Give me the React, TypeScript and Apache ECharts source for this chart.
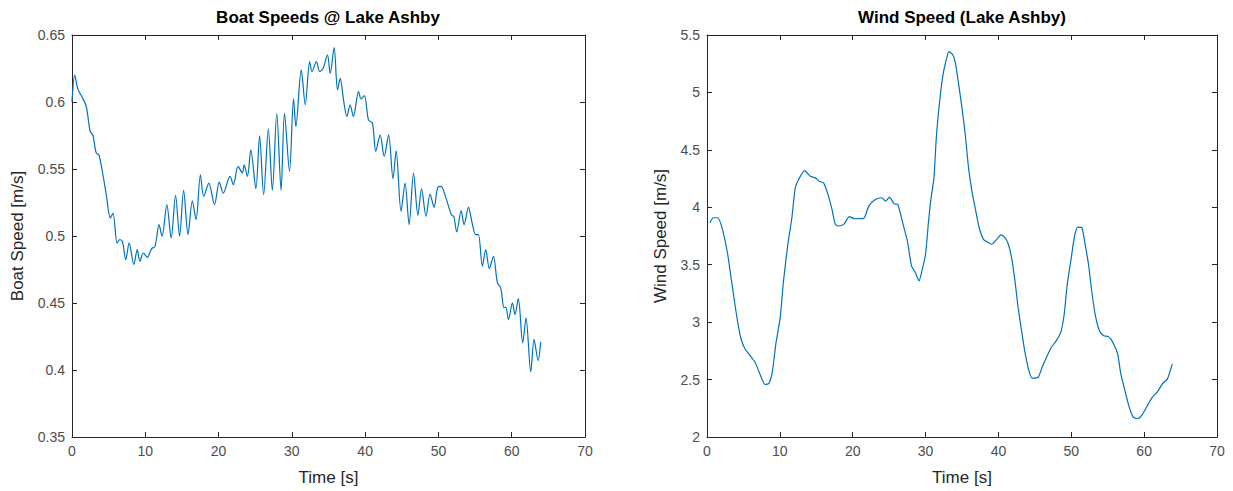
import React, { useEffect, useRef } from "react";
import * as echarts from "echarts";

// Boat speed record (time in s, speed in m/s)
const boatTime = [
  0, 0.37, 0.78, 1.24, 1.93, 2.48, 2.84, 3.3, 3.67, 4.22, 4.68, 5.23, 5.6, 6.15, 6.51, 6.88,
  7.34, 7.8, 8.44, 8.9, 9.27, 9.72, 10.28, 10.87, 11.33, 11.88, 12.29, 12.94, 13.53, 14.13,
  14.68, 15.23, 15.83, 16.42, 16.93, 17.52, 17.98, 18.67, 19.45, 20.09, 20.64, 21.56, 22.02,
  22.66, 23.26, 23.49, 23.94, 24.4, 25.09, 25.6, 26.15, 26.79, 27.34, 27.94, 28.53, 28.99,
  29.68, 30.23, 30.55, 31.28, 31.83, 32.43, 32.75, 33.35, 33.81, 34.27, 34.86, 35.23, 35.77,
  36.23, 36.6, 37.05, 37.5, 37.95, 38.4, 39.1, 39.45, 39.9, 40.45, 41.0, 41.45, 42.05, 42.6,
  43.2, 43.8, 44.23, 44.9, 45.45, 46.0, 46.6, 47.2, 47.7, 48.3, 48.86, 49.4, 49.9, 50.36,
  51.0, 51.8, 52.1, 52.5, 53.1, 53.5, 54.1, 54.6, 55.1, 55.45, 56.0, 56.45, 56.95, 57.5,
  58.05, 58.5, 58.95, 59.2, 59.55, 60.1, 60.45, 60.9, 61.5, 61.95, 62.6, 63.05, 63.6, 63.95,
];
const boatSpeed = [
  0.6, 0.62, 0.61, 0.605, 0.597, 0.578, 0.5755, 0.562, 0.5606, 0.5457, 0.5308, 0.5134, 0.5171,
  0.4948, 0.4973, 0.496, 0.4824, 0.4948, 0.4787, 0.4898, 0.4811, 0.4873, 0.4841, 0.4906,
  0.4923, 0.5085, 0.4998, 0.5234, 0.4985, 0.5303, 0.4998, 0.534, 0.501, 0.5263, 0.5122,
  0.5457, 0.5296, 0.5395, 0.5234, 0.5402, 0.532, 0.5445, 0.5383, 0.5519, 0.547, 0.5531,
  0.5445, 0.5643, 0.5353, 0.5748, 0.5308, 0.58, 0.534, 0.5916, 0.534, 0.5916, 0.5482, 0.6023,
  0.5817, 0.6239, 0.5979, 0.6301, 0.6227, 0.6301, 0.6227, 0.6252, 0.6351, 0.6214, 0.6406,
  0.609, 0.6177, 0.6016, 0.5892, 0.5979, 0.5892, 0.6078, 0.6023, 0.6048, 0.5867, 0.5842,
  0.5631, 0.5755, 0.5594, 0.5755, 0.5427, 0.5636, 0.5184, 0.5395, 0.5085, 0.5469, 0.5154,
  0.5353, 0.5147, 0.5313, 0.5214, 0.5363, 0.537, 0.5288, 0.5154, 0.5147, 0.503, 0.5189,
  0.5085, 0.5214, 0.5097, 0.501, 0.501, 0.4774, 0.4898, 0.4757, 0.4849, 0.465, 0.4613, 0.4464,
  0.4469, 0.4377, 0.4501, 0.4414, 0.4533, 0.4203, 0.4389, 0.3987, 0.4228, 0.4071, 0.421,
];

// Wind speed record (time in s, speed in m/s)
const windTime = [
  0.41, 0.87, 1.47, 1.93, 2.39, 2.84, 3.3, 3.76, 4.22, 4.68, 5.23, 5.92, 6.61, 7.16, 7.98,
  8.53, 8.99, 9.45, 10.05, 10.5, 11.1, 11.65, 12.11, 12.57, 13.39, 14.17, 14.86, 15.41, 16.0,
  16.6, 17.16, 17.61, 18.07, 18.76, 19.54, 20.28, 21.5, 22.2, 23.1, 24.0, 24.5, 25.05, 25.7,
  26.2, 26.8, 27.5, 28.07, 28.6, 29.1, 29.5, 30.0, 30.37, 30.7, 31.15, 31.47, 31.93, 32.39,
  32.84, 33.2, 33.76, 34.1, 34.55, 35.0, 35.45, 35.9, 36.36, 36.8, 37.36, 37.95, 38.64, 39.1,
  39.77, 40.36, 40.9, 41.36, 41.8, 42.27, 42.7, 43.18, 43.6, 44.18, 44.64, 45.45, 46.0, 46.6,
  47.27, 47.95, 48.55, 49.0, 49.45, 50.0, 50.45, 50.9, 51.45, 51.9, 52.36, 52.8, 53.27, 53.86,
  54.45, 55.1, 55.7, 56.36, 56.8, 57.36, 57.95, 58.5, 59.1, 59.77, 60.45, 61.14, 61.8, 62.5,
  63.2, 63.86,
];
const windSpeed = [
  3.866, 3.909, 3.909, 3.851, 3.735, 3.591, 3.388, 3.186, 2.998, 2.853, 2.766, 2.709, 2.651,
  2.564, 2.457, 2.468, 2.578, 2.81, 3.041, 3.359, 3.678, 3.909, 4.169, 4.242, 4.32, 4.271,
  4.256, 4.227, 4.213, 4.112, 3.981, 3.851, 3.837, 3.851, 3.918, 3.9, 3.903, 4.01, 4.068,
  4.083, 4.054, 4.088, 4.03, 4.025, 3.88, 3.707, 3.49, 3.432, 3.359, 3.446, 3.591, 3.851,
  4.054, 4.256, 4.603, 4.921, 5.153, 5.283, 5.355, 5.326, 5.254, 5.066, 4.864, 4.632, 4.343,
  4.14, 3.996, 3.822, 3.721, 3.692, 3.678, 3.721, 3.759, 3.736, 3.678, 3.562, 3.359, 3.128,
  2.925, 2.752, 2.578, 2.512, 2.52, 2.607, 2.694, 2.781, 2.839, 2.911, 3.056, 3.331, 3.562,
  3.75, 3.828, 3.822, 3.678, 3.504, 3.273, 3.07, 2.925, 2.882, 2.874, 2.824, 2.723, 2.55,
  2.405, 2.26, 2.173, 2.159, 2.197, 2.275, 2.347, 2.39, 2.463, 2.506, 2.636,
];

const xTicks = { min: 0, max: 70, interval: 10 };
const boatRange = { min: 0.35, max: 0.65, interval: 0.05 };
const windRange = { min: 2, max: 5.5, interval: 0.5 };

const FONT = "Liberation Sans, Arial, Helvetica, sans-serif";
const AXIS_COLOR = "#262626";
const LABEL_COLOR = "#4d4d4d";
const LINE_COLOR = "#0072BD";

const fmt = (v: number) => String(parseFloat(v.toFixed(2)));

function App() {
  const ref = useRef<HTMLDivElement>(null);

  useEffect(() => {
    if (!ref.current) return;
    const chart = echarts.init(ref.current, undefined, { renderer: "svg" });

    const grids = [
      { left: 72, top: 35, width: 513, height: 403 },
      { left: 707, top: 35, width: 510, height: 403 },
    ];

    const baseLine = { show: true, onZero: false, lineStyle: { color: AXIS_COLOR, width: 1 } };
    const baseTick = { show: true, inside: true, length: 5, lineStyle: { color: AXIS_COLOR, width: 1 } };
    const tickFont = { fontFamily: FONT, fontSize: 14, color: LABEL_COLOR };
    const nameFont = { fontFamily: FONT, fontSize: 17, color: AXIS_COLOR };

    const xAxes: any[] = [];
    const yAxes: any[] = [];
    [0, 1].forEach((g) => {
      xAxes.push({
        type: "value",
        gridIndex: g,
        position: "bottom",
        ...xTicks,
        name: "Time [s]",
        nameLocation: "middle",
        nameGap: 32,
        nameTextStyle: nameFont,
        axisLine: baseLine,
        axisTick: baseTick,
        splitLine: { show: false },
        axisLabel: { ...tickFont, margin: 7 },
      });
      xAxes.push({
        type: "value",
        gridIndex: g,
        position: "top",
        ...xTicks,
        axisLine: baseLine,
        axisTick: baseTick,
        splitLine: { show: false },
        axisLabel: { show: false },
      });
    });
    [
      { g: 0, range: boatRange, name: "Boat Speed [m/s]", gap: 46 },
      { g: 1, range: windRange, name: "Wind Speed [m/s]", gap: 38 },
    ].forEach(({ g, range, name, gap }) => {
      yAxes.push({
        type: "value",
        gridIndex: g,
        position: "left",
        ...range,
        name,
        nameLocation: "middle",
        nameGap: gap,
        nameTextStyle: nameFont,
        axisLine: baseLine,
        axisTick: baseTick,
        splitLine: { show: false },
        axisLabel: { ...tickFont, margin: 7, formatter: fmt },
      });
      yAxes.push({
        type: "value",
        gridIndex: g,
        position: "right",
        ...range,
        axisLine: baseLine,
        axisTick: baseTick,
        splitLine: { show: false },
        axisLabel: { show: false },
      });
    });

    const boatData = boatTime.map((t, i) => [t, boatSpeed[i]]);
    const windData = windTime.map((t, i) => [t, windSpeed[i]]);

    const titleStyle = {
      fontFamily: FONT,
      fontSize: 17,
      fontWeight: "bold",
      fill: "#000000",
      textAlign: "center",
    };

    chart.setOption({
      animation: false,
      backgroundColor: "#ffffff",
      grid: grids,
      xAxis: xAxes,
      yAxis: yAxes,
      graphic: [
        {
          type: "text",
          x: 328,
          y: 9,
          style: { ...titleStyle, text: "Boat Speeds @ Lake Ashby" },
        },
        {
          type: "text",
          x: 962,
          y: 9,
          style: { ...titleStyle, text: "Wind Speed (Lake Ashby)" },
        },
      ],
      series: [
        {
          type: "line",
          xAxisIndex: 0,
          yAxisIndex: 0,
          data: boatData,
          showSymbol: false,
          smooth: 0.3,
          lineStyle: { color: LINE_COLOR, width: 1.2 },
        },
        {
          type: "line",
          xAxisIndex: 2,
          yAxisIndex: 2,
          data: windData,
          showSymbol: false,
          smooth: 0.2,
          lineStyle: { color: LINE_COLOR, width: 1.2 },
        },
      ],
    });

    return () => chart.dispose();
  }, []);

  return (
    <div
      ref={ref}
      style={{ position: "fixed", left: 0, top: 0, width: 1233, height: 491, background: "#fff" }}
    />
  );
}

export default App;
